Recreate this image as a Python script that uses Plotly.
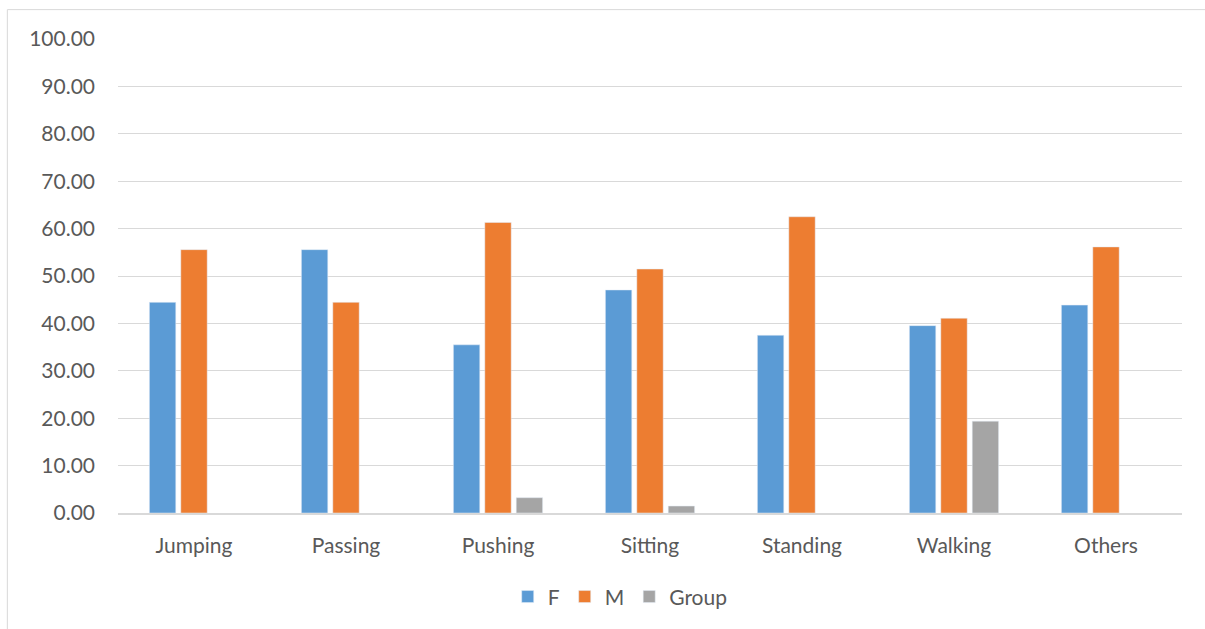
import plotly.graph_objects as go

# Share of each activity by gender / group (percent); None = no group entries
categories = ["Jumping", "Passing", "Pushing", "Sitting", "Standing", "Walking", "Others"]
f_values = [44.44, 55.56, 35.48, 47.06, 37.50, 39.53, 43.86]
m_values = [55.56, 44.44, 61.29, 51.47, 62.50, 41.09, 56.14]
group_values = [None, None, 3.23, 1.47, None, 19.38, None]
y_ticks = [0, 10, 20, 30, 40, 50, 60, 70, 80, 90, 100]

FONT = "Lato, 'Open Sans', sans-serif"
TEXT = "#595959"
GRID = "#d9d9d9"
FS = 21

fig = go.Figure()
fig.add_trace(go.Bar(name="F", x=categories, y=f_values, marker_color="#5B9BD5"))
fig.add_trace(go.Bar(name="M", x=categories, y=m_values, marker_color="#ED7D31"))
fig.add_trace(go.Bar(name="Group", x=categories, y=group_values, marker_color="#A5A5A5"))

fig.update_layout(
    width=1205,
    height=629,
    margin=dict(l=118, r=23, t=39, b=113),
    paper_bgcolor="white",
    plot_bgcolor="white",
    barmode="group",
    bargap=0.38,
    bargroupgap=0.16,
    font=dict(family=FONT, size=FS, color=TEXT),
    legend=dict(
        orientation="h",
        x=0.472,
        xanchor="center",
        y=-0.177,
        yanchor="middle",
        font=dict(family=FONT, size=FS, color=TEXT),
        itemwidth=30,
        traceorder="normal",
    ),
    shapes=[
        # thin chart-area frame along the top and left edges
        dict(type="rect", xref="paper", yref="paper",
             x0=-0.104, x1=1.2, y0=-0.4, y1=1.062,
             line=dict(color=GRID, width=1), fillcolor="rgba(0,0,0,0)", layer="below"),
    ],
)

fig.update_yaxes(
    range=[0, 100],
    tickvals=y_ticks,
    tickformat=".2f",
    showgrid=True,
    gridcolor=GRID,
    gridwidth=1,
    zeroline=False,
    showline=False,
    ticks="",
    ticklabelstandoff=22,
    tickfont=dict(family=FONT, size=FS, color=TEXT),
)
fig.update_xaxes(
    showline=True,
    linecolor=GRID,
    linewidth=1.5,
    ticks="",
    ticklabelstandoff=13,
    tickfont=dict(family=FONT, size=FS, color=TEXT),
)

fig.write_html("out.html")
